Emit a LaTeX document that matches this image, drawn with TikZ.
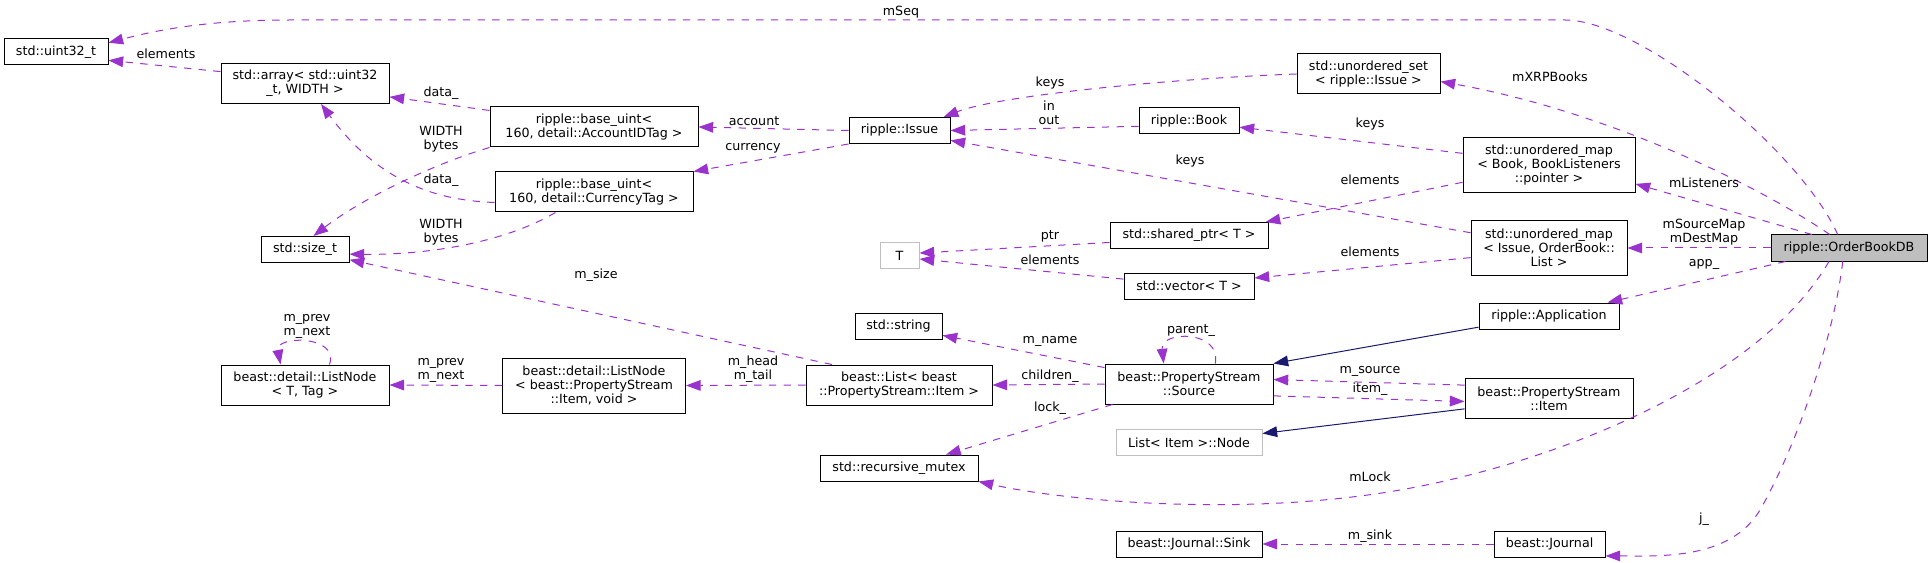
\documentclass[tikz,border=0pt]{standalone}
\usepackage{fontspec}
\setmainfont{DejaVu Sans}
\usetikzlibrary{arrows.meta}

\definecolor{memb}{RGB}{154,50,205}
\definecolor{inher}{RGB}{25,25,112}
\definecolor{ghost}{RGB}{191,191,191}

\begin{document}
\begin{tikzpicture}[
  x=0.75pt, y=-0.75pt,
  font=\fontsize{9.5}{10.5}\selectfont,
  cls/.style    = {draw=black, line width=0.75pt, rectangle, inner sep=0pt, align=center},
  clsg/.style   = {cls, draw=ghost},
  me/.style     = {cls, fill=ghost},
  one/.style    = {minimum height=19.5pt},
  two/.style    = {minimum height=30pt},
  three/.style  = {minimum height=41.25pt},
  dep/.style    = {draw=memb, line width=0.75pt, dash pattern=on 5.5pt off 5.5pt,
                   -{Triangle[length=11pt,width=8pt,fill=memb]}},
  isa/.style    = {draw=inher, line width=0.75pt,
                   -{Triangle[length=11pt,width=8pt,fill=inher]}},
  lbl/.style    = {inner sep=0pt, align=center},
]
\useasboundingbox (0,0) rectangle (1932,563);

% --- left column -------------------------------------------------------
\node[cls, one, minimum width=78pt] (u32) at (56,52) {std::uint32\_t};
\node[cls, two, minimum width=126pt] (arr) at (305,83.5) {std::array< std::uint32\\\_t, WIDTH >};
\node[cls, one, minimum width=66pt] (sizet) at (305,249.5) {std::size\_t};
\node[cls, two, minimum width=126pt] (lnT) at (305,385) {beast::detail::ListNode\\< T, Tag >};

% --- second column -----------------------------------------------------
\node[cls, two, minimum width=156pt] (acct) at (594,127) {ripple::base\_uint<\\ 160, detail::AccountIDTag >};
\node[cls, two, minimum width=148.5pt] (curr) at (594,192) {ripple::base\_uint<\\ 160, detail::CurrencyTag >};
\node[cls, three, minimum width=137.25pt] (lnItem) at (594,385.5) {beast::detail::ListNode\\< beast::PropertyStream\\::Item, void >};

% --- third column ------------------------------------------------------
\node[cls, one, minimum width=75.75pt] (issue) at (899.5,130.5) {ripple::Issue};
\node[clsg, one, minimum width=29.25pt] (T) at (899.5,255.5) {T};
\node[cls, one, minimum width=65.25pt] (str) at (898.5,326) {std::string};
\node[cls, two, minimum width=139.5pt] (blist) at (899,385) {beast::List< beast\\::PropertyStream::Item >};
\node[cls, one, minimum width=118.5pt] (mtx) at (899,468) {std::recursive\_mutex};

% --- fourth column -----------------------------------------------------
\node[cls, two, minimum width=107.25pt] (uset) at (1368.5,74) {std::unordered\_set\\< ripple::Issue >};
\node[cls, one, minimum width=75pt] (book) at (1189,121) {ripple::Book};
\node[cls, one, minimum width=118.5pt] (sptr) at (1189,235.5) {std::shared\_ptr< T >};
\node[cls, one, minimum width=97.5pt] (vec) at (1189,286) {std::vector< T >};
\node[cls, two, minimum width=126pt] (src) at (1189,384) {beast::PropertyStream\\::Source};
\node[clsg, one, minimum width=109.5pt] (lnode) at (1189,442.5) {List< Item >::Node};
\node[cls, one, minimum width=109.5pt] (sink) at (1189,544) {beast::Journal::Sink};

% --- fifth column ------------------------------------------------------
\node[cls, three, minimum width=129pt] (umapB) at (1549,165.5) {std::unordered\_map\\< Book, BookListeners\\::pointer >};
\node[cls, three, minimum width=117pt] (umapI) at (1549,248) {std::unordered\_map\\< Issue, OrderBook::\\List >};
\node[cls, one, minimum width=105pt] (app) at (1549,316) {ripple::Application};
\node[cls, two, minimum width=126pt] (item) at (1549,398.5) {beast::PropertyStream\\::Item};
\node[cls, one, minimum width=83.25pt] (journal) at (1549.5,544) {beast::Journal};

\node[me, one, minimum width=117pt] (obdb) at (1849,248) {ripple::OrderBookDB};

% --- members of OrderBookDB --------------------------------------------
\draw[dep] (obdb.130) .. controls (1800,150) and (1640,20) .. (1565,20)
  -- (290,20) .. controls (200,20) and (150,32) .. (u32.10);
\draw[dep] (obdb.145) .. controls (1750,180) and (1600,110) .. (uset.-6);
\draw[dep] (obdb.160) -- (umapB.-12);
\draw[dep] (obdb.west) -- (umapI.east);
\draw[dep] (obdb.192) -- (app.13);
\draw[dep] (obdb.214) .. controls (1760,380) and (1560,462) .. (1400,490)
  .. controls (1240,518) and (1060,500) .. (mtx.south east);
\draw[dep] (obdb.245) .. controls (1835,330) and (1800,440) .. (1760,510)
  .. controls (1730,560) and (1660,556) .. (journal.-12);

\node[lbl] at (901,12) {mSeq};
\node[lbl] at (1550,77) {mXRPBooks};
\node[lbl] at (1704,183) {mListeners};
\node[lbl] at (1704,232) {mSourceMap\\mDestMap};
\node[lbl] at (1704,264) {app\_};
\node[lbl] at (1370,477) {mLock};
\node[lbl] at (1704,519) {j\_};

% --- maps, sets and pointers -------------------------------------------
\draw[dep] (uset.west) .. controls (1180,78) and (1000,95) .. (issue.17);
\draw[dep] (umapB.172) -- (book.-7);
\draw[dep] (umapB.191) -- (sptr.10);
\draw[dep] (umapI.169) -- (issue.-11);
\draw[dep] (umapI.187) -- (vec.7);
\draw[dep] (book.186) -- (issue.east);
\draw[dep] (sptr.185) -- (T.7);
\draw[dep] (vec.174) -- (T.-10);

\node[lbl] at (1050,83) {keys};
\node[lbl] at (1049,113) {in\\out};
\node[lbl] at (1370,124) {keys};
\node[lbl] at (1190,161) {keys};
\node[lbl] at (1370,180) {elements};
\node[lbl] at (1370,252) {elements};
\node[lbl] at (1050,236) {ptr};
\node[lbl] at (1050,260) {elements};

% --- issue and base_uint -----------------------------------------------
\draw[dep] (issue.west) -- (acct.east);
\draw[dep] (issue.south west) -- (curr.north east);
\draw[dep] (acct.171) -- (arr.-9);
\draw[dep] (acct.south west) .. controls (430,165) and (360,200) .. (sizet.58);
\draw[dep] (curr.186) .. controls (420,200) and (370,170) .. (arr.-52);
\draw[dep] (curr.208) .. controls (500,245) and (420,255) .. (sizet.-6);
\draw[dep] (arr.172) -- (u32.-9);

\node[lbl] at (754,121) {account};
\node[lbl] at (753,148) {currency};
\node[lbl] at (441,93) {data\_};
\node[lbl] at (441,139) {WIDTH\\bytes};
\node[lbl] at (441,180) {data\_};
\node[lbl] at (441,232) {WIDTH\\bytes};
\node[lbl] at (166,54) {elements};

% --- property stream ---------------------------------------------------
\draw[isa] (app.189) -- (src.north east);
\draw[isa] (item.187) -- (lnode.7);
\draw[dep] (item.171) -- (src.3);
\draw[dep] (src.-8) -- (item.182);
\draw[dep] (src.38) .. controls (1222,330) and (1160,330) .. (src.141);
\draw[dep] (src.169) -- (str.-12);
\draw[dep] (src.west) -- (blist.east);
\draw[dep] (src.195.5) -- (mtx.16);
\draw[dep] (blist.163) -- (sizet.-13);
\draw[dep] (blist.west) -- (lnItem.east);
\draw[dep] (lnItem.west) -- (lnT.east);
\draw[dep] (lnT.40) .. controls (340,335) and (275,335) .. (lnT.140);
\draw[dep] (journal.west) -- (sink.east);

\node[lbl] at (1370,371) {m\_source};
\node[lbl] at (1370,389) {item\_};
\node[lbl] at (1191,331) {parent\_};
\node[lbl] at (1050,341) {m\_name};
\node[lbl] at (1050,376) {children\_};
\node[lbl] at (1050,408) {lock\_};
\node[lbl] at (596,275) {m\_size};
\node[lbl] at (753,369) {m\_head\\m\_tail};
\node[lbl] at (441,370) {m\_prev\\m\_next};
\node[lbl] at (307,326) {m\_prev\\m\_next};
\node[lbl] at (1370,536) {m\_sink};

\end{tikzpicture}
\end{document}
